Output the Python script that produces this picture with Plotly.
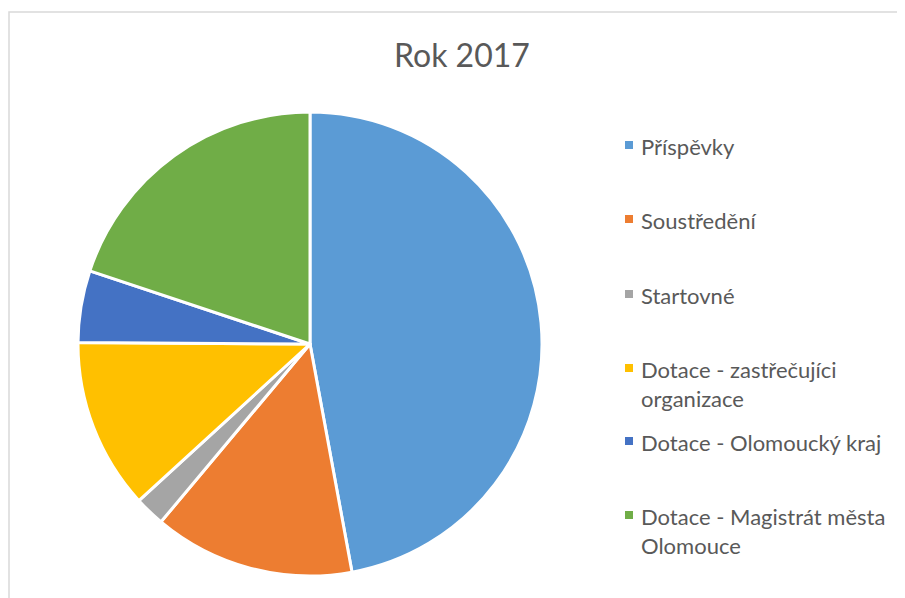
import plotly.graph_objects as go

# the page body has an 8px margin, so the figure is a bit smaller and shifted
OFF = 8
W, H = 905 - OFF, 598 - OFF

# data (percent shares)
labels = ["Příspěvky", "Soustředění", "Startovné",
          "Dotace - zastřečujíci organizace", "Dotace - Olomoucký kraj",
          "Dotace - Magistrát města Olomouce"]
legend_text = ["Příspěvky", "Soustředění", "Startovné",
               "Dotace - zastřečujíci<br>organizace", "Dotace - Olomoucký kraj",
               "Dotace - Magistrát města<br>Olomouce"]
values = [47.1, 14.0, 2.1, 11.9, 5.0, 19.9]
colors = ["#5B9BD5", "#ED7D31", "#A5A5A5", "#FFC000", "#4472C4", "#70AD47"]

FONT = "Lato"
TXT = "#595959"
LSIZE = 22


def px(x):
    return (x - OFF) / W


def py(y):
    return 1 - (y - OFF) / H


fig = go.Figure()
fig.add_trace(go.Pie(
    labels=labels, values=values, sort=False, direction="clockwise", rotation=0,
    marker=dict(colors=colors, line=dict(color="white", width=3)),
    textinfo="none", hoverinfo="label+percent", showlegend=False,
    domain=dict(x=[px(78), px(542)], y=[py(576), py(112)]),
))

shapes = [dict(type="rect", xref="paper", yref="paper",
               x0=px(9), x1=px(W + 40), y0=py(H + 40), y1=py(12),
               line=dict(color="#D9D9D9", width=1.5), fillcolor="rgba(0,0,0,0)")]
annotations = [dict(text="Rok 2017", xref="paper", yref="paper", x=px(462), y=py(55),
                    xanchor="center", yanchor="middle", showarrow=False,
                    font=dict(family=FONT, size=32, color=TXT))]

# manual legend, Excel style spacing
first_line = [145, 219, 294, 368, 441, 515]
for lab, c, y in zip(legend_text, colors, first_line):
    shapes.append(dict(type="rect", xref="paper", yref="paper",
                       x0=px(625), x1=px(633), y0=py(y + 4), y1=py(y - 4),
                       line=dict(width=0), fillcolor=c))
    annotations.append(dict(text=lab, xref="paper", yref="paper", x=px(639), y=py(y - 14),
                            xanchor="left", yanchor="top", align="left", showarrow=False,
                            font=dict(family=FONT, size=LSIZE, color=TXT)))

fig.update_layout(
    width=W, height=H, margin=dict(l=0, r=0, t=0, b=0),
    paper_bgcolor="white", plot_bgcolor="white",
    shapes=shapes, annotations=annotations,
)

fig.write_html("out.html")
